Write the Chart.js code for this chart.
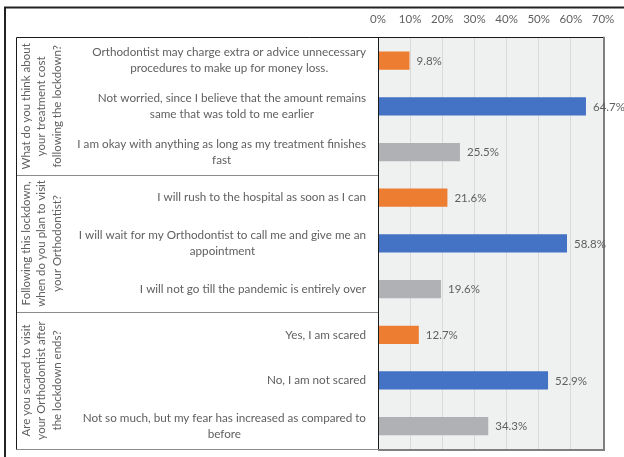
<!DOCTYPE html>
<html>
<head>
<meta charset="utf-8">
<script src="https://cdn.jsdelivr.net/npm/chart.js@4.4.1/dist/chart.umd.min.js"></script>
<style>
  html, body { margin: 0; padding: 0; background: #ffffff; }
  #wrap { width: 624px; height: 457px; position: relative; }
</style>
</head>
<body>
<div id="wrap"><canvas id="c" width="624" height="457"></canvas></div>
<script>
// Survey answers, one row per answer (each may wrap onto two lines)
const answers = [
  ["Orthodontist may charge extra or advice unnecessary", "procedures to make up for money loss."],
  ["Not worried, since I believe that the amount remains", "same that was told to me earlier"],
  ["I am okay with anything as long as my treatment finishes", "fast"],
  ["I will rush to the hospital as soon as I can"],
  ["I will wait for my Orthodontist to call me and give me an", "appointment"],
  ["I will not go till the pandemic is entirely over"],
  ["Yes, I am scared"],
  ["No, I am not scared"],
  ["Not so much, but my fear has increased as compared to", "before"]
];

// Share of respondents per answer (%)
const percentages = [9.8, 64.7, 25.5, 21.6, 58.8, 19.6, 12.7, 52.9, 34.3];

// Questions, each covering three consecutive answers
const questions = [
  ["What do you think about", "your treatment cost", "following the lockdown?"],
  ["Following this lockdown,", "when do you plan to visit", "your Orthodontist?"],
  ["Are you scared to visit", "your Orthodontist after", "the lockdown ends?"]
];
const answersPerQuestion = [3, 3, 3];

// Axis ticks (%)
const axisMin = 0;
const axisMax = 70;
const axisStep = 10;

// Styling
const barColors = ["#ed7d31", "#4472c4", "#b0b1b4"];
const textGray = "#5f5f5f";
const fontFamily = "Lato, 'Open Sans', sans-serif";

const rowColors = percentages.map((_, i) => barColors[i % barColors.length]);

// Plot background, frame, question column and answer labels
const tablePlugin = {
  id: "surveyTable",
  beforeDraw(chart) {
    const { ctx, chartArea: a } = chart;
    ctx.save();
    ctx.fillStyle = "#eff0f0";
    ctx.fillRect(a.left, a.top, a.right - a.left, a.bottom - a.top);
    ctx.restore();
  },
  afterDraw(chart) {
    const { ctx, chartArea: a, scales } = chart;
    const y = scales.y;
    const rowH = Math.abs(y.getPixelForValue(1) - y.getPixelForValue(0));
    const tableLeft = 16.5;
    ctx.save();

    // outer frame (top and left edges)
    ctx.strokeStyle = "#222222";
    ctx.lineWidth = 2;
    ctx.beginPath();
    ctx.moveTo(5, 457); ctx.lineTo(5, 7.5); ctx.lineTo(624, 7.5);
    ctx.stroke();

    // question separators
    ctx.lineWidth = 1;
    let idx = 0;
    const bounds = [];
    answersPerQuestion.forEach((n) => {
      const top = y.getPixelForValue(idx) - rowH / 2;
      const bottom = y.getPixelForValue(idx + n - 1) + rowH / 2;
      bounds.push([top, bottom]);
      idx += n;
    });
    ctx.strokeStyle = "#8c8c8c";
    bounds.forEach(([, bottom]) => {
      ctx.beginPath();
      ctx.moveTo(tableLeft, Math.round(bottom) + 0.5);
      ctx.lineTo(a.left, Math.round(bottom) + 0.5);
      ctx.stroke();
    });

    // table top & left edge
    ctx.strokeStyle = "#1a1a1a";
    ctx.beginPath();
    ctx.moveTo(tableLeft, Math.round(a.bottom) + 0.5);
    ctx.lineTo(tableLeft, Math.round(a.top) - 0.5);
    ctx.lineTo(a.right, Math.round(a.top) - 0.5);
    ctx.stroke();

    // plot frame: dark left, gray right/bottom
    ctx.beginPath();
    ctx.moveTo(Math.round(a.left) + 0.5, a.top);
    ctx.lineTo(Math.round(a.left) + 0.5, a.bottom);
    ctx.stroke();
    ctx.strokeStyle = "#7f7f7f";
    ctx.lineWidth = 2;
    ctx.beginPath();
    ctx.moveTo(a.left, Math.round(a.bottom) + 1);
    ctx.lineTo(Math.round(a.right) + 1, Math.round(a.bottom) + 1);
    ctx.lineTo(Math.round(a.right) + 1, a.top - 1);
    ctx.stroke();

    // answer labels: block right-aligned, lines centred
    ctx.fillStyle = textGray;
    ctx.font = "11.7px " + fontFamily;
    ctx.textBaseline = "middle";
    ctx.textAlign = "center";
    const labelRight = a.left - 12;
    const lineH = 16;
    answers.forEach((lines, i) => {
      const cy = y.getPixelForValue(i);
      const widest = Math.max(...lines.map((l) => ctx.measureText(l).width));
      const cx = labelRight - widest / 2;
      const startY = cy - ((lines.length - 1) * lineH) / 2;
      lines.forEach((l, k) => ctx.fillText(l, cx, startY + k * lineH));
    });

    // question labels, rotated
    ctx.font = "11.5px " + fontFamily;
    const colX = [26, 41.5, 57];
    questions.forEach((lines, q) => {
      const [top, bottom] = bounds[q];
      const cy = (top + bottom) / 2;
      lines.forEach((l, k) => {
        ctx.save();
        ctx.translate(colX[k], cy);
        ctx.rotate(-Math.PI / 2);
        ctx.fillText(l, 0, 0);
        ctx.restore();
      });
    });

    // value labels at the end of each bar
    ctx.font = "11.5px " + fontFamily;
    ctx.textAlign = "left";
    const meta = chart.getDatasetMeta(0);
    meta.data.forEach((bar, i) => {
      ctx.fillText(percentages[i].toFixed(1) + "%", bar.x + 7, bar.y + 0.5);
    });
    ctx.restore();
  }
};

new Chart(document.getElementById("c"), {
  type: "bar",
  data: {
    labels: answers,
    datasets: [{
      data: percentages,
      backgroundColor: rowColors,
      borderWidth: 0,
      barPercentage: 0.4,
      categoryPercentage: 1.0
    }]
  },
  options: {
    indexAxis: "y",
    responsive: false,
    animation: false,
    devicePixelRatio: 1,
    layout: { padding: { left: 378, right: 21, top: 0, bottom: 8 } },
    plugins: {
      legend: { display: false },
      tooltip: { enabled: false }
    },
    scales: {
      x: {
        position: "top",
        min: axisMin,
        max: axisMax,
        border: { display: false },
        grid: { color: "#d9d9d9", drawTicks: false, lineWidth: 1 },
        afterFit(scale) {
          // tick labels may overhang the plot edges
          scale.paddingLeft = 0;
          scale.paddingRight = 0;
        },
        ticks: {
          stepSize: axisStep,
          padding: 12,
          color: textGray,
          font: { family: fontFamily, size: 11.5 },
          callback: (v) => v + "%"
        }
      },
      y: {
        display: false
      }
    }
  },
  plugins: [tablePlugin]
});
</script>
</body>
</html>
